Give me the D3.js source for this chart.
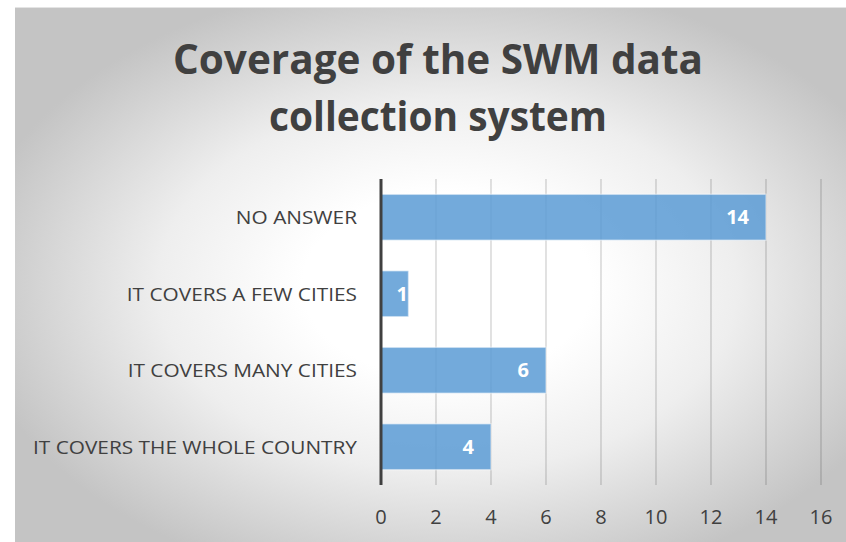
<!DOCTYPE html>
<html>
<head>
<meta charset="utf-8">
<script src="https://cdn.jsdelivr.net/npm/d3@7"></script>
<style>
  body { margin: 0; background: #fff; }
  svg { display: block; }
</style>
</head>
<body>
<div id="chart"></div>
<script>
var categories = ['IT COVERS THE WHOLE COUNTRY', 'IT COVERS MANY CITIES', 'IT COVERS A FEW CITIES', 'NO ANSWER']
var values = [4, 6, 1, 14]
var ticks = [0, 2, 4, 6, 8, 10, 12, 14, 16]
var titleLines = ['Coverage of the SWM data', 'collection system']

var W = 846, H = 542
var font = '"Open Sans", "Noto Sans", sans-serif'

var svg = d3.select('#chart').append('svg')
  .attr('width', W)
  .attr('height', H)

// elliptical gradient across the chart area
var defs = svg.append('defs')
var grad = defs.append('radialGradient')
  .attr('id', 'bg')
  .attr('cx', 0.52).attr('cy', 0.52).attr('r', 0.58)
grad.append('stop').attr('offset', 0).attr('stop-color', '#ffffff')
grad.append('stop').attr('offset', 0.3).attr('stop-color', '#ffffff')
grad.append('stop').attr('offset', 0.6).attr('stop-color', '#eeeeee')
grad.append('stop').attr('offset', 1).attr('stop-color', '#c4c4c4')

svg.append('rect')
  .attr('x', 15).attr('y', 7)
  .attr('width', W - 15).attr('height', H - 7)
  .attr('fill', 'url(#bg)')
svg.append('line')
  .attr('x1', 15).attr('x2', W).attr('y1', 7.5).attr('y2', 7.5)
  .attr('stroke', '#e4e4e4')

// title
var title = svg.append('g')
  .attr('fill', '#404040')
  .style('font-family', font)
  .style('font-weight', 700)
  .style('font-size', '42px')
  .attr('text-anchor', 'middle')
var titleWidths = [530, 338]
titleLines.forEach((t, i) => {
  title.append('text')
    .attr('x', 438)
    .attr('y', 74 + i * 57)
    .attr('textLength', titleWidths[i])
    .attr('lengthAdjust', 'spacingAndGlyphs')
    .text(t)
})

var x = d3.scaleLinear().domain([0, 16]).range([381, 821])
var y = d3.scaleBand()
  .domain(categories.slice().reverse())
  .range([179, 485])
  .paddingInner(0.4)
  .paddingOuter(0.2)

// gridlines
svg.append('g')
  .selectAll('line')
  .data(ticks.slice(1))
  .join('line')
  .attr('x1', d => x(d)).attr('x2', d => x(d))
  .attr('y1', 179).attr('y2', 485)
  .attr('stroke', 'rgba(0,0,0,0.18)')
  .attr('stroke-width', 1.3)

// bars
svg.append('g')
  .selectAll('rect')
  .data(values)
  .join('rect')
  .attr('x', x(0))
  .attr('y', (d, i) => y(categories[i]))
  .attr('width', d => x(d) - x(0))
  .attr('height', y.bandwidth())
  .attr('fill', 'rgb(91,155,213)')
  .attr('fill-opacity', 0.85)
  .attr('stroke', 'rgba(255,255,255,0.45)')
  .attr('stroke-width', 1.5)

// value labels
svg.append('g')
  .selectAll('text')
  .data(values)
  .join('text')
  .attr('x', d => Math.max(x(d) - 17, x(0) + 27))
  .attr('y', (d, i) => y(categories[i]) + y.bandwidth() / 2)
  .attr('dy', '0.36em')
  .attr('text-anchor', 'end')
  .attr('fill', '#fff')
  .style('font-family', font)
  .style('font-weight', 700)
  .style('font-size', '20px')
  .text(d => d)

// vertical axis line
svg.append('line')
  .attr('x1', x(0)).attr('x2', x(0))
  .attr('y1', 179).attr('y2', 485)
  .attr('stroke', '#404040')
  .attr('stroke-width', 3)

// category labels, stretched by one common factor
var labels = svg.append('g')
  .selectAll('text')
  .data(categories)
  .join('text')
  .attr('x', 357)
  .attr('y', d => y(d) + y.bandwidth() / 2)
  .attr('dy', '0.36em')
  .attr('text-anchor', 'end')
  .attr('fill', '#404040')
  .style('font-family', font)
  .style('font-size', '19px')
  .text(d => d)
var widest = d3.max(labels.nodes(), n => n.getComputedTextLength())
var k = 324 / widest
labels.each(function () {
  d3.select(this)
    .attr('textLength', this.getComputedTextLength() * k)
    .attr('lengthAdjust', 'spacingAndGlyphs')
})

// x tick labels
svg.append('g')
  .selectAll('text')
  .data(ticks)
  .join('text')
  .attr('x', d => x(d))
  .attr('y', 517)
  .attr('dy', '0.36em')
  .attr('text-anchor', 'middle')
  .attr('fill', '#404040')
  .style('font-family', font)
  .style('font-size', '20px')
  .text(d => d)
</script>
</body>
</html>
